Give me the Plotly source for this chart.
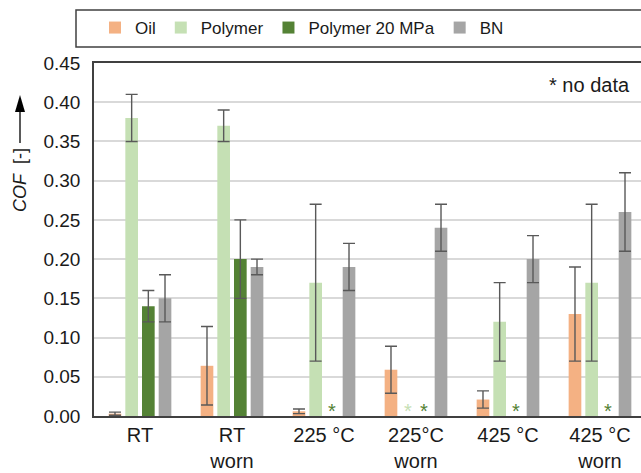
import plotly.graph_objects as go

categories = ["RT", "RT<br>worn", "225 °C", "225°C<br>worn", "425 °C", "425 °C<br>worn"]
series_names = ["Oil", "Polymer", "Polymer 20 MPa", "BN"]
oil = [0.003, 0.064, 0.006, 0.059, 0.021, 0.13]
oil_err = [0.002, 0.05, 0.003, 0.03, 0.011, 0.06]
polymer = [0.38, 0.37, 0.17, None, 0.12, 0.17]
polymer_err = [0.03, 0.02, 0.10, None, 0.05, 0.10]
polymer20 = [0.14, 0.20, None, None, None, None]
polymer20_err = [0.02, 0.05, None, None, None, None]
bn = [0.15, 0.19, 0.19, 0.24, 0.20, 0.26]
bn_err = [0.03, 0.01, 0.03, 0.03, 0.03, 0.05]

values = [oil, polymer, polymer20, bn]
errors = [oil_err, polymer_err, polymer20_err, bn_err]
colors = ["#f4b183", "#c5e0b4", "#548235", "#a5a5a5"]
star_colors = ["#f4b183", "#c5e0b4", "#548235", "#a5a5a5"]

FONT = "Liberation Sans, Arial, sans-serif"
W, H = 641, 473
ML, MR, MT, MB = 94, 0, 63, 57
BARGAP = 0.275
XMAX = 5.5 - 5 / 92.0
YMAX = 0.45

fig = go.Figure()
for name, v, e, c in zip(series_names, values, errors, colors):
    fig.add_trace(go.Bar(
        name=name, x=categories, y=v,
        marker=dict(color=c, line=dict(width=0)),
        error_y=dict(type="data", array=e, visible=True, color="#595959",
                     thickness=1.4, width=6),
    ))

# no-data stars, placed in the slot of the missing bar
plot_w = W - ML - MR
band = plot_w / (XMAX + 0.5)
slot = band * (1 - BARGAP) / len(series_names)
for k, v in enumerate(values):
    for i, val in enumerate(v):
        if val is None:
            fig.add_annotation(
                x=categories[i], y=0.006, xref="x", yref="y",
                xshift=(k - 1.5) * slot, yanchor="middle",
                text="*", showarrow=False,
                font=dict(family=FONT, size=20, color=star_colors[k]),
            )

fig.add_annotation(
    x=(632 - ML) / plot_w, y=0.938, xref="paper", yref="paper",
    xanchor="right", yanchor="middle", text="* no data", showarrow=False,
    font=dict(family=FONT, size=20, color="#1a1a1a"),
)

# y-axis title with arrow
plot_h = H - MT - MB
fig.add_annotation(
    x=(20 - ML) / plot_w, y=(H - MB - 180) / plot_h, xref="paper", yref="paper",
    xanchor="center", yanchor="middle", textangle=-90,
    text="<i>COF</i>  [-]", showarrow=False,
    font=dict(family=FONT, size=18, color="#1a1a1a"),
)
ax_x = (20 - ML) / plot_w
tip_y = (H - MB - 95) / plot_h
fig.add_shape(type="path", xref="paper", yref="paper", xsizemode="pixel", ysizemode="pixel",
              xanchor=ax_x, yanchor=tip_y, path="M0,0 L-5,-17 L5,-17 Z",
              fillcolor="#000000", line=dict(width=0))
fig.add_shape(type="line", xref="paper", yref="paper", xsizemode="pixel", ysizemode="pixel",
              xanchor=ax_x, yanchor=tip_y, x0=0, x1=0, y0=-15, y1=-48,
              line=dict(color="#000000", width=1.3))

# legend frame
fig.add_shape(type="rect", xref="paper", yref="paper",
              x0=(76 - ML) / plot_w, x1=1.05,
              y0=(H - MB - 47) / plot_h, y1=(H - MB - 10) / plot_h,
              line=dict(color="#404040", width=1.5), fillcolor="rgba(0,0,0,0)")

fig.update_layout(
    width=W, height=H,
    margin=dict(l=ML, r=MR, t=MT, b=MB, pad=0, autoexpand=False),
    paper_bgcolor="white", plot_bgcolor="white",
    barmode="group", bargap=BARGAP, bargroupgap=0.24,
    font=dict(family=FONT, color="#1a1a1a"),
    showlegend=True,
    legend=dict(orientation="h", x=(95 - ML) / plot_w, xanchor="left",
                y=(H - MB - 28) / plot_h, yanchor="middle",
                font=dict(family=FONT, size=17, color="#1a1a1a"),
                bgcolor="rgba(0,0,0,0)", borderwidth=0, itemwidth=30,
                traceorder="normal"),
    xaxis=dict(range=[-0.5, XMAX], showgrid=False, showline=True, mirror=True,
               linecolor="#404040", linewidth=1.5, ticks="",
               automargin=False,
               tickfont=dict(family=FONT, size=20, color="#1a1a1a"),
               fixedrange=True),
    yaxis=dict(range=[0, YMAX], dtick=0.05, tickformat=".2f",
               showgrid=True, gridcolor="#d9d9d9", gridwidth=1.5,
               zeroline=False, showline=True, linecolor="#404040", linewidth=1.5,
               ticks="", ticklabelstandoff=8, automargin=False,
               tickfont=dict(family=FONT, size=19, color="#1a1a1a")),
)

fig.write_html("out.html")
